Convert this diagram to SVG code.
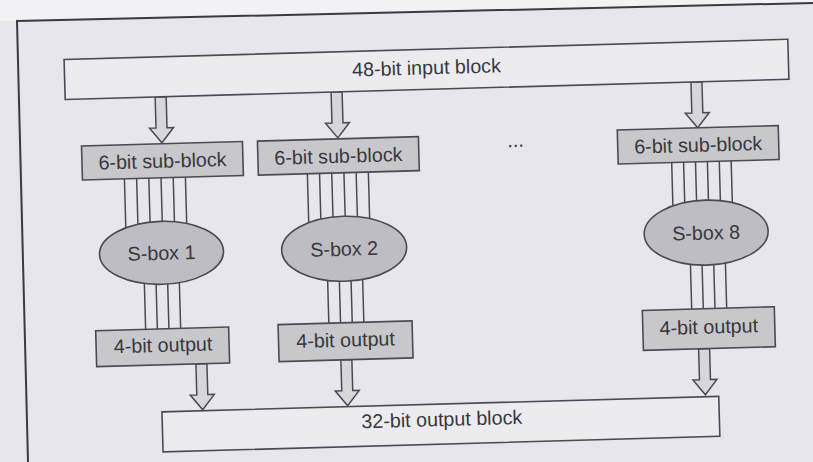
<svg xmlns="http://www.w3.org/2000/svg" width="813" height="462" viewBox="0 0 813 462">
<defs>
<style>
.bg{fill:#e6e6ec}
.topstrip{fill:#f2f2f5}
.frame{fill:none;stroke:#3a3a40;stroke-width:2}
.wide{fill:#ececf0;stroke:#4a4a50;stroke-width:1.6}
.sub{fill:#c7c7cc;stroke:#4a4a50;stroke-width:1.6}
.sbox{fill:#bdbdc3;stroke:#4a4a50;stroke-width:1.6}
.bit{stroke:#4a4a50;stroke-width:1.5;fill:none}
.arr{fill:#d6d6db;stroke:#4a4a50;stroke-width:1.5}
text{font-family:"Liberation Sans",Arial,sans-serif;font-size:19.7px;fill:#38383c;text-anchor:middle}
</style>
<path id="barrow" d="M-5.5,0 V31 H-12 L0,46 L12,31 H5.5 V0 Z"/>
</defs>
<rect class="bg" x="0" y="0" width="813" height="462"/>
<polygon class="topstrip" points="0,0 813,0 813,3 17,21 0,21"/>
<polyline class="frame" points="28,462 17,21 813,3"/>
<g transform="rotate(-1.6 406 231)">
<g id="connectors">
<path class="bit" d="M126,171V246 M138.2,171V246 M150.4,171V246 M162.6,171V246 M174.8,171V246 M187,171V246"/>
<path class="bit" d="M143,246V322 M154.7,246V322 M166.3,246V322 M178,246V322"/>
<path class="bit" d="M309,171V247 M321.2,171V247 M333.4,171V247 M345.6,171V247 M357.8,171V247 M370,171V247"/>
<path class="bit" d="M326.3,247V321 M338,247V321 M349.7,247V321 M361.3,247V321"/>
<path class="bit" d="M673.5,170V241 M685.4,170V241 M697.3,170V241 M709.2,170V241 M721.1,170V241 M733,170V241"/>
<path class="bit" d="M689.4,241V317 M701,241V317 M712.7,241V317 M724.4,241V317"/>
<use class="arr" href="#barrow" transform="translate(164.5 90)"/>
<use class="arr" href="#barrow" transform="translate(340.5 90)"/>
<use class="arr" href="#barrow" transform="translate(700.5 90)"/>
<use class="arr" href="#barrow" transform="translate(197.8 358)"/>
<use class="arr" href="#barrow" transform="translate(342.8 358)"/>
<use class="arr" href="#barrow" transform="translate(700.7 357)"/>
</g>
<g id="input-block">
<rect class="wide" x="69" y="50" width="724" height="40"/>
<text x="431" y="75">48-bit input block</text>
</g>
<g id="sub-block-1">
<rect class="sub" x="84" y="137" width="161" height="34"/>
<text x="164.5" y="161">6-bit sub-block</text>
</g>
<g id="sub-block-2">
<rect class="sub" x="260" y="137" width="161" height="34"/>
<text x="340.5" y="161">6-bit sub-block</text>
</g>
<g id="ellipsis">
<text x="518" y="150">...</text>
</g>
<g id="sub-block-8">
<rect class="sub" x="620" y="136" width="161" height="34"/>
<text x="700.5" y="160">6-bit sub-block</text>
</g>
<g id="sbox-1">
<ellipse class="sbox" cx="161" cy="246" rx="62" ry="31.5"/>
<text x="161" y="253">S-box 1</text>
</g>
<g id="sbox-2">
<ellipse class="sbox" cx="343.7" cy="247" rx="62.5" ry="32.5"/>
<text x="343.7" y="254">S-box 2</text>
</g>
<g id="sbox-8">
<ellipse class="sbox" cx="706" cy="241" rx="62" ry="32.5"/>
<text x="706" y="248">S-box 8</text>
</g>
<g id="output-1">
<rect class="sub" x="93" y="322" width="133" height="36"/>
<text x="160" y="345">4-bit output</text>
</g>
<g id="output-2">
<rect class="sub" x="275.5" y="321" width="134" height="37"/>
<text x="342.6" y="345">4-bit output</text>
</g>
<g id="output-8">
<rect class="sub" x="640" y="317" width="132" height="40"/>
<text x="706" y="342">4-bit output</text>
</g>
<g id="output-block">
<rect class="wide" x="157" y="405" width="557" height="40"/>
<text x="436.5" y="427">32-bit output block</text>
</g>
</g>
</svg>
